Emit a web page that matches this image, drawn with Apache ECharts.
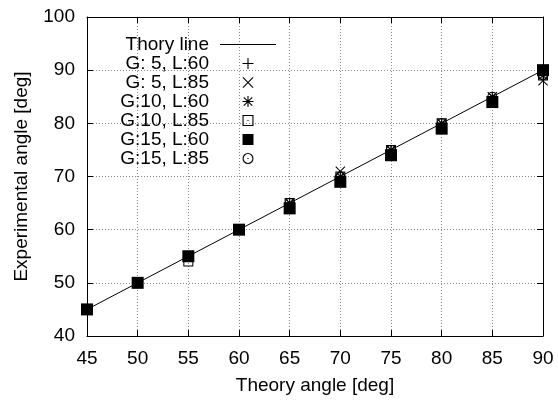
<!DOCTYPE html>
<html>
<head>
<meta charset="utf-8">
<script src="https://cdn.jsdelivr.net/npm/echarts@6/dist/echarts.min.js"></script>
<style>html,body{margin:0;padding:0;background:#fff}#c{width:558px;height:400px}</style>
</head>
<body>
<div id="c"></div>
<script>
// ---- data ----
const theoryX = [45, 90];
const theoryY = [45, 90];
const angles = [45, 50, 55, 60, 65, 70, 75, 80, 85, 90];
const g5l60  = [45, 50, 55, 60, 65, 70, 75, 80, 85, 90];
const g5l85  = [45, 50, 55, 60, 65, 71, 75, 80, 85, 88];
const g10l60 = [45, 50, 55, 60, 65, 70, 75, 80, 85, 89];
const g10l85 = [45, 50, 54, 60, 65, 70, 75, 80, 84, 89];
const g15l60 = [45, 50, 55, 60, 64, 69, 74, 79, 84, 90];
const g15l85 = [45, 50, 55, 60, 65, 70, 75, 80, 85, 89];
const seriesNames = ['G: 5, L:60', 'G: 5, L:85', 'G:10, L:60', 'G:10, L:85', 'G:15, L:60', 'G:15, L:85'];
const seriesValues = [g5l60, g5l85, g10l60, g10l85, g15l60, g15l85];
const lineName = 'Thory line';

// ---- symbols ----
const SYM_PLUS = 'path://M0,4.5H10V5.5H0Z M4.5,0H5.5V10H4.5Z';
const SYM_CROSS = 'path://M0,0.7L0.7,0L10,9.3L9.3,10Z M9.3,0L10,0.7L0.7,10L0,9.3Z';
const SYM_STAR = 'path://M0,4.5H10V5.5H0Z M4.5,0H5.5V10H4.5Z M0.8,1.5L1.5,0.8L9.2,8.5L8.5,9.2Z M8.5,0.8L9.2,1.5L1.5,9.2L0.8,8.5Z M0,0 M10,10';
const SYM_OSQ = 'path://M0,0H10V10H0Z M1,1V9H9V1Z M4.5,4.5H5.5V5.5H4.5Z';
const SYM_FSQ = 'path://M0,0H10V10H0Z';
const SYM_OCIRC = 'path://M5,0A5,5 0 1 1 5,10A5,5 0 1 1 5,0Z M5,1A4,4 0 1 0 5,9A4,4 0 1 0 5,1Z M4.5,4.5H5.5V5.5H4.5Z M0,0 M10,10';
const symbols = [SYM_PLUS, SYM_CROSS, SYM_STAR, SYM_OSQ, SYM_FSQ, SYM_OCIRC];
const sizes = [10, 10, 10, 10, 12, 10];

const FONT = 'Liberation Sans, Arial, sans-serif';
const FS = 19;

const chart = echarts.init(document.getElementById('c'), null, {renderer: 'canvas'});

const scatterSeries = seriesNames.map((n, k) => ({
  name: n,
  type: 'scatter',
  symbol: symbols[k],
  symbolSize: sizes[k],
  itemStyle: {color: '#000', borderWidth: 0, opacity: 1},
  data: angles.map((a, i) => [a, seriesValues[k][i]]),
  z: 3,
  emphasis: {disabled: true}
}));

const option = {
  backgroundColor: '#fff',
  animation: false,
  textStyle: {fontFamily: FONT},
  grid: {left: 87, right: 15, top: 17, bottom: 62, containLabel: false},
  legend: {
    orient: 'vertical',
    align: 'right',
    right: 282,
    top: 35,
    padding: 0,
    itemGap: 0,
    itemWidth: 56,
    itemHeight: 11,
    selectedMode: false,
    itemStyle: {borderWidth: 0},
    textStyle: {fontFamily: FONT, fontSize: FS, color: '#000', lineHeight: 19, padding: [0, 6, 0, 0]},
    data: [{name: lineName, icon: 'path://M0,0 M0,5H56V6H0Z M56,11'}].concat(seriesNames.map(n => ({name: n})))
  },
  xAxis: [{
    type: 'value', min: 45, max: 90, interval: 5, position: 'bottom',
    name: 'Theory angle [deg]', nameLocation: 'middle', nameGap: 40,
    nameTextStyle: {fontFamily: FONT, fontSize: FS, color: '#000'},
    axisLine: {show: true, lineStyle: {color: '#000', width: 1}},
    axisTick: {show: true, inside: true, length: 6, lineStyle: {color: '#000'}},
    axisLabel: {fontFamily: FONT, fontSize: FS, color: '#000', margin: 13},
    splitLine: {show: true, lineStyle: {color: '#888', type: [1, 2], width: 1}}
  }, {
    type: 'value', min: 45, max: 90, interval: 5, position: 'top',
    axisLine: {show: true, lineStyle: {color: '#000', width: 1}},
    axisTick: {show: true, inside: true, length: 6, lineStyle: {color: '#000'}},
    axisLabel: {show: false},
    splitLine: {show: false}
  }],
  yAxis: [{
    type: 'value', min: 40, max: 100, interval: 10, position: 'left',
    name: 'Experimental angle [deg]', nameLocation: 'middle', nameGap: 56, nameRotate: 90,
    nameTextStyle: {fontFamily: FONT, fontSize: FS, color: '#000'},
    axisLine: {show: true, lineStyle: {color: '#000', width: 1}},
    axisTick: {show: true, inside: true, length: 6, lineStyle: {color: '#000'}},
    axisLabel: {fontFamily: FONT, fontSize: FS, color: '#000', margin: 12},
    splitLine: {show: true, lineStyle: {color: '#888', type: [1, 2], width: 1}}
  }, {
    type: 'value', min: 40, max: 100, interval: 10, position: 'right',
    axisLine: {show: true, lineStyle: {color: '#000', width: 1}},
    axisTick: {show: true, inside: true, length: 6, lineStyle: {color: '#000'}},
    axisLabel: {show: false},
    splitLine: {show: false}
  }],
  series: [{
    name: lineName,
    type: 'line',
    symbol: 'none',
    lineStyle: {color: '#000', width: 1},
    itemStyle: {color: '#000'},
    data: theoryX.map((x, i) => [x, theoryY[i]]),
    z: 2,
    emphasis: {disabled: true}
  }].concat(scatterSeries)
};
chart.setOption(option);
</script>
</body>
</html>
